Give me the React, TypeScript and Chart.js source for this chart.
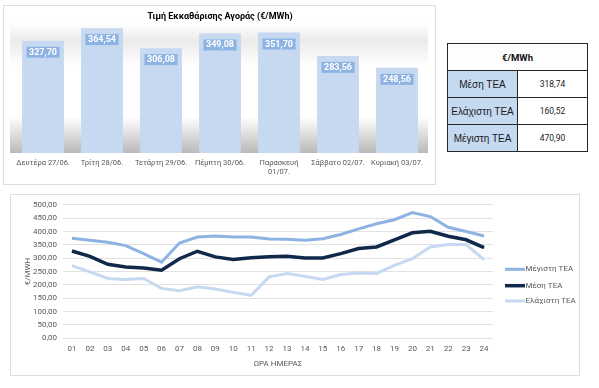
import React, { useEffect, useRef } from 'react';
import { Chart, registerables } from 'chart.js';
Chart.register(...registerables);

const FONT = "Roboto, 'Noto Sans', sans-serif";

// ---- Bar chart data ----
const barTitle = 'Τιμή Εκκαθάρισης Αγοράς (€/MWh)';
const dayLabels = [
  ['Δευτέρα 27/06.'],
  ['Τρίτη 28/06.'],
  ['Τετάρτη 29/06.'],
  ['Πέμπτη 30/06.'],
  ['Παρασκευή', '01/07.'],
  ['Σάββατο 02/07.'],
  ['Κυριακή 03/07.'],
];
const dayPrices = [327.7, 364.54, 306.08, 349.08, 351.7, 283.56, 248.56];

// ---- Table data ----
const tableHeader = '€/MWh';
const tableRowLabels = ['Μέση ΤΕΑ', 'Ελάχιστη ΤΕΑ', 'Μέγιστη ΤΕΑ'];
const tableRowValues = ['318,74', '160,52', '470,90'];

// ---- Line chart data ----
const hourLabels = ['01', '02', '03', '04', '05', '06', '07', '08', '09', '10', '11', '12', '13', '14', '15', '16', '17', '18', '19', '20', '21', '22', '23', '24'];
const maxTea = [375, 367, 360, 347, 317, 285, 357, 379, 383, 379, 379, 372, 371, 367, 373, 389, 410, 429, 444, 471, 456, 416, 400, 383];
const meanTea = [327, 307, 277, 267, 263, 255, 298, 326, 305, 295, 302, 305, 307, 301, 301, 317, 336, 342, 369, 395, 401, 382, 369, 340];
const minTea = [272, 249, 224, 220, 224, 187, 178, 193, 185, 172, 161, 230, 243, 232, 220, 239, 245, 243, 273, 298, 342, 351, 351, 295];
const seriesNames = ['Μέγιστη ΤΕΑ', 'Μέση ΤΕΑ', 'Ελάχιστη ΤΕΑ'];
const yAxisTitle = '€/MWH';
const xAxisTitle = 'ΩΡΑ ΗΜΕΡΑΣ';

const fmt = (v: number) => v.toFixed(2).replace('.', ',');

const barBackground = {
  id: 'barBackground',
  beforeDraw(chart: any) {
    const ctx = chart.ctx;
    const x0 = 7, x1 = 425;
    ctx.save();
    let g = ctx.createLinearGradient(0, 18, 0, 62);
    g.addColorStop(0, 'rgba(230,230,230,0)');
    g.addColorStop(0.4, 'rgba(230,230,230,0.8)');
    g.addColorStop(1, 'rgba(230,230,230,0)');
    ctx.fillStyle = g;
    ctx.fillRect(x0, 18, x1 - x0, 44);
    g = ctx.createLinearGradient(0, 112, 0, 148);
    g.addColorStop(0, 'rgba(185,185,185,0)');
    g.addColorStop(1, 'rgba(185,185,185,1)');
    ctx.fillStyle = g;
    ctx.fillRect(x0, 112, x1 - x0, 36);
    ctx.restore();
  },
};

const barDecor = {
  id: 'barDecor',
  afterDatasetsDraw(chart: any) {
    const ctx = chart.ctx;
    const meta = chart.getDatasetMeta(0);
    ctx.save();
    ctx.font = `bold 9px ${FONT}`;
    ctx.textAlign = 'center';
    ctx.textBaseline = 'middle';
    meta.data.forEach((el: any, i: number) => {
      const txt = fmt(dayPrices[i]);
      const w = ctx.measureText(txt).width + 5;
      const { x, y } = el.getProps(['x', 'y'], true);
      ctx.fillStyle = '#8DB3E2';
      ctx.fillRect(x - w / 2, y + 6, w, 11);
      ctx.fillStyle = '#FFFFFF';
      ctx.fillText(txt, x, y + 11.8);
    });
    ctx.fillStyle = '#000000';
    ctx.font = `bold 9px ${FONT}`;
    ctx.fillText(barTitle, 217, 12);
    ctx.restore();
  },
};

function BarChart() {
  const ref = useRef<HTMLCanvasElement>(null);
  useEffect(() => {
    const chart = new Chart(ref.current as HTMLCanvasElement, {
      type: 'bar',
      data: {
        labels: dayLabels,
        datasets: [{ data: dayPrices, backgroundColor: '#C6D9F1', barPercentage: 0.71, categoryPercentage: 1 }],
      },
      options: {
        animation: false,
        responsive: false,
        layout: { padding: { left: 10.5, right: 9.5, top: 11, bottom: 5 } },
        plugins: { legend: { display: false }, tooltip: { enabled: false } },
        scales: {
          x: {
            grid: { display: false, drawTicks: false },
            border: { display: false },
            ticks: { color: '#595959', font: { family: FONT, size: 7.5 }, padding: 5.5, maxRotation: 0, autoSkip: false },
            afterFit: (s: any) => { s.height = 27; },
          },
          y: { display: false, min: 0, max: 400 },
        },
      } as any,
      plugins: [barBackground, barDecor],
    });
    return () => chart.destroy();
  }, []);
  return (
    <canvas ref={ref} width={433} height={180}
      style={{ position: 'absolute', left: 3, top: 5, width: 433, height: 180 }} />
  );
}

const lineLegend = {
  id: 'lineLegend',
  afterDraw(chart: any) {
    const ctx = chart.ctx;
    const ys = [75.3, 91.7, 107];
    ctx.save();
    ctx.font = `8px ${FONT}`;
    ctx.textBaseline = 'middle';
    ctx.textAlign = 'left';
    chart.data.datasets.forEach((ds: any, i: number) => {
      ctx.strokeStyle = ds.borderColor;
      ctx.lineWidth = ds.borderWidth;
      ctx.beginPath();
      ctx.moveTo(495, ys[i]);
      ctx.lineTo(515, ys[i]);
      ctx.stroke();
      ctx.fillStyle = '#595959';
      ctx.fillText(ds.label, 515.5, ys[i]);
    });
    ctx.restore();
  },
};

function LineChart() {
  const ref = useRef<HTMLCanvasElement>(null);
  useEffect(() => {
    const chart = new Chart(ref.current as HTMLCanvasElement, {
      type: 'line',
      data: {
        labels: hourLabels,
        datasets: [
          { label: seriesNames[0], data: maxTea, borderColor: '#8DB3E2', borderWidth: 3, pointRadius: 0, tension: 0, order: 2 },
          { label: seriesNames[1], data: meanTea, borderColor: '#10284A', borderWidth: 3.5, pointRadius: 0, tension: 0, order: 1 },
          { label: seriesNames[2], data: minTea, borderColor: '#C6D9F1', borderWidth: 3, pointRadius: 0, tension: 0, order: 3 },
        ],
      },
      options: {
        animation: false,
        responsive: false,
        layout: { padding: { left: 0, right: 87, top: 10.3, bottom: 3.7 } },
        plugins: { legend: { display: false }, tooltip: { enabled: false } },
        scales: {
          x: {
            offset: true,
            grid: { display: false, drawTicks: false },
            border: { display: false },
            ticks: { color: '#595959', font: { family: FONT, size: 8 }, padding: 6, maxRotation: 0, autoSkip: false },
            title: { display: true, text: xAxisTitle, color: '#595959', font: { family: FONT, size: 8 }, padding: { top: 0, bottom: 3.5 } },
            afterFit: (s: any) => { s.height = 34; },
          },
          y: {
            min: 0,
            max: 500,
            grid: { color: '#E2E2E2', lineWidth: 1, drawTicks: false },
            border: { display: false },
            ticks: { stepSize: 50, color: '#595959', font: { family: FONT, size: 8 }, padding: 6, callback: (v: any) => fmt(Number(v)) },
            title: { display: true, text: yAxisTitle, color: '#595959', font: { family: FONT, size: 8 }, padding: { top: 13.2, bottom: 0 } },
            afterFit: (s: any) => { s.width = 53; },
          },
        },
      } as any,
      plugins: [lineLegend],
    });
    return () => chart.destroy();
  }, []);
  return (
    <canvas ref={ref} width={570} height={182}
      style={{ position: 'absolute', left: 10, top: 194, width: 570, height: 182 }} />
  );
}

function PriceTable() {
  const border = '1px solid #262626';
  const labelCell: React.CSSProperties = {
    background: '#C5D9F1', border, textAlign: 'center', fontFamily: "'Liberation Sans', Arial, sans-serif",
    fontSize: 10, color: '#1a1a1a', height: 26, padding: 0, width: 92,
  };
  const valueCell: React.CSSProperties = {
    background: '#FFFFFF', border, textAlign: 'center', fontFamily: FONT, fontSize: 8.5, color: '#1a1a1a', padding: 0,
  };
  return (
    <table style={{
      position: 'absolute', left: 447, top: 43, width: 141, height: 103, borderCollapse: 'collapse',
      border: '1.5px solid #262626', tableLayout: 'fixed',
    }}>
      <tbody>
        <tr>
          <td colSpan={2} style={{ border, background: '#FDFDFD', textAlign: 'center', fontFamily: FONT, fontWeight: 'bold', fontSize: 9.5, height: 26, padding: 0, color: '#111' }}>
            {tableHeader}
          </td>
        </tr>
        {tableRowLabels.map((l, i) => (
          <tr key={l}>
            <td style={labelCell}>{l}</td>
            <td style={valueCell}>{tableRowValues[i]}</td>
          </tr>
        ))}
      </tbody>
    </table>
  );
}

export default function App() {
  return (
    <div style={{ position: 'fixed', left: 0, top: 0, width: 599, height: 388, background: '#FFFFFF', overflow: 'hidden' }}>
      <BarChart />
      <div style={{ position: 'absolute', left: 3, top: 5, width: 433, height: 180, border: '1px solid #DDDDDD', boxSizing: 'border-box', pointerEvents: 'none' }} />
      <LineChart />
      <div style={{ position: 'absolute', left: 10, top: 194, width: 570, height: 182, border: '1px solid #DDDDDD', boxSizing: 'border-box', pointerEvents: 'none' }} />
      <PriceTable />
    </div>
  );
}
